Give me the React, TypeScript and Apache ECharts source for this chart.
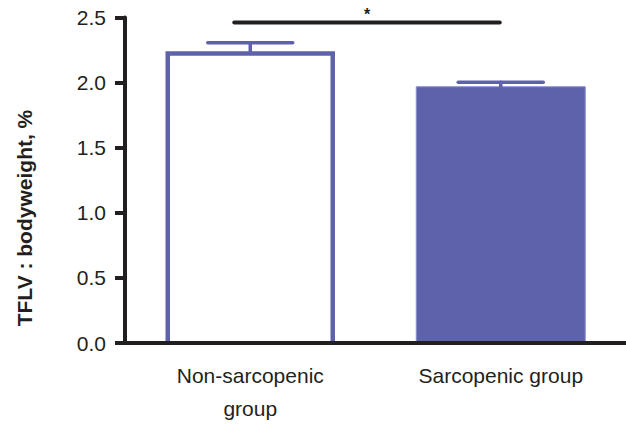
import React, { useEffect, useRef } from "react";
import * as echarts from "echarts";

const categories = ["Non-sarcopenic\ngroup", "Sarcopenic group"];
const means = [2.224, 1.972];
const errors = [0.082, 0.031];
const yTicks = { min: 0, max: 2.5, interval: 0.5 };
const sigLine = { from: 0, to: 1, y: 2.462, label: "*" };
const yName = "TFLV : bodyweight, %";

const BLUE = "#5e62aa";
const INK = "#231f20";
const FONT = "'Liberation Sans', Arial, Helvetica, sans-serif";
const OUTLINE_HALF = 82.5;

export default function App() {
  const ref = useRef<HTMLDivElement>(null);
  useEffect(() => {
    if (!ref.current) return;
    const chart = echarts.init(ref.current, undefined, { renderer: "svg" });
    chart.setOption({
      animation: false,
      grid: { left: 125, right: 0, top: 17.5, bottom: 74.3, containLabel: false },
      xAxis: {
        type: "category",
        data: categories,
        z: 10,
        axisLine: { lineStyle: { color: INK, width: 4 } },
        axisTick: { alignWithLabel: true, length: 10, lineStyle: { color: INK, width: 4 } },
        axisLabel: {
          color: INK,
          fontSize: 21,
          fontFamily: FONT,
          lineHeight: 33,
          margin: 16,
          interval: 0,
        },
      },
      yAxis: {
        type: "value",
        min: yTicks.min,
        max: yTicks.max,
        interval: yTicks.interval,
        z: 10,
        splitLine: { show: false },
        axisLine: { show: true, lineStyle: { color: INK, width: 4 } },
        axisTick: { show: true, length: 10, lineStyle: { color: INK, width: 4 } },
        axisLabel: {
          color: INK,
          fontSize: 21,
          fontFamily: FONT,
          margin: 19,
          formatter: (v: number) => v.toFixed(1),
        },
      },
      graphic: [
        {
          type: "text",
          x: 24,
          y: 218,
          rotation: Math.PI / 2,
          style: {
            text: yName,
            font: `bold 21px ${FONT}`,
            fill: INK,
            textAlign: "center",
            textVerticalAlign: "middle",
          },
        },
      ],
      series: [
        {
          type: "bar",
          barWidth: 170,
          data: [
            {
              value: means[0],
              itemStyle: { color: "#ffffff", borderWidth: 0 },
            },
            {
              value: means[1],
              itemStyle: { color: BLUE, borderColor: "#8a90d0", borderWidth: 1 },
            },
          ],
          z: 2,
        },
        {
          type: "custom",
          z: 3,
          data: [[0, means[0]]],
          renderItem: (params: any, api: any) => {
            const top = api.coord([api.value(0), api.value(1)]);
            const base = api.coord([api.value(0), 0]);
            const l = top[0] - OUTLINE_HALF;
            const r = top[0] + OUTLINE_HALF;
            return {
              type: "polyline",
              shape: {
                points: [
                  [l, base[1]],
                  [l, top[1]],
                  [r, top[1]],
                  [r, base[1]],
                ],
              },
              style: { stroke: BLUE, lineWidth: 4.5, fill: "none", lineJoin: "miter" },
            };
          },
        },
        {
          type: "custom",
          z: 3,
          data: means.map((m, i) => [i, m, errors[i]]),
          renderItem: (params: any, api: any) => {
            const i = api.value(0);
            const m = api.value(1);
            const e = api.value(2);
            const base = api.coord([i, m]);
            const top = api.coord([i, m + e]);
            const hw = 42.5;
            const style = { stroke: BLUE, lineWidth: 3.5, lineCap: "round" };
            return {
              type: "group",
              children: [
                { type: "line", shape: { x1: top[0], y1: top[1], x2: base[0], y2: base[1] }, style },
                { type: "line", shape: { x1: top[0] - hw, y1: top[1], x2: top[0] + hw, y2: top[1] }, style },
              ],
            };
          },
        },
        {
          type: "custom",
          z: 3,
          data: [[sigLine.from, sigLine.to, sigLine.y]],
          renderItem: (params: any, api: any) => {
            const a = api.coord([api.value(0), api.value(2)]);
            const b = api.coord([api.value(1), api.value(2)]);
            const x1 = a[0] - 16;
            const x2 = b[0] - 1;
            return {
              type: "group",
              children: [
                {
                  type: "line",
                  shape: { x1, y1: a[1], x2, y2: b[1] },
                  style: { stroke: INK, lineWidth: 4, lineCap: "round" },
                },
                {
                  type: "text",
                  x: (x1 + x2) / 2,
                  y: a[1] - 8,
                  style: {
                    text: sigLine.label,
                    font: `bold 16px ${FONT}`,
                    fill: INK,
                    textAlign: "center",
                    textVerticalAlign: "middle",
                  },
                },
              ],
            };
          },
        },
      ],
    });
    return () => chart.dispose();
  }, []);
  return (
    <div
      ref={ref}
      style={{ position: "absolute", left: 0, top: 0, width: 626, height: 425, background: "#fff" }}
    />
  );
}
